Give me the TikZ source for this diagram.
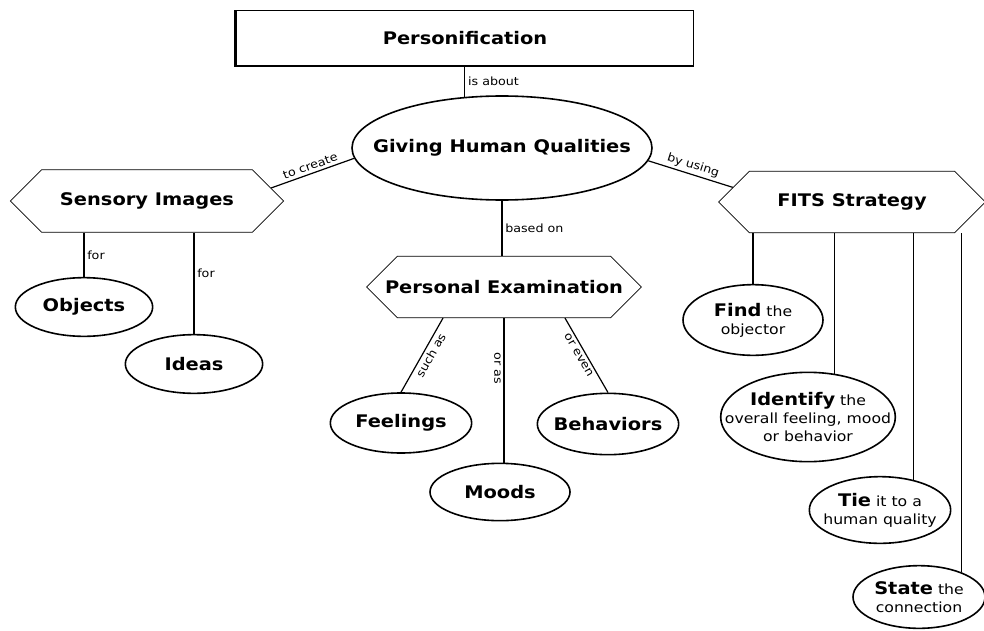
\documentclass[tikz,border=0pt]{standalone}
\usepackage{fontspec}
\setmainfont{DejaVu Sans}[FakeStretch=1.12]
\usetikzlibrary{shapes.geometric,shapes.symbols}

\begin{document}
\begin{tikzpicture}[
    x=0.75pt, y=-0.75pt,
    pmtitle/.style={draw, line width=0.9pt, minimum width=343pt, minimum height=41pt, inner sep=0pt, font=\fontsize{13}{15}\selectfont\bfseries},
    pmconcept/.style={ellipse, draw, line width=1.2pt, inner sep=-20pt, align=center, font=\fontsize{13}{15}\selectfont\bfseries},
    pmstep/.style={ellipse, draw, line width=1.2pt, inner sep=-20pt, align=center, font=\fontsize{10.5}{13.5}\selectfont},
    pmgroup/.style={signal, signal to=west and east, signal pointer angle=90, draw, line width=0.6pt, inner xsep=-20pt, inner ysep=0pt, font=\fontsize{13}{15}\selectfont\bfseries},
    pmlink/.style={line width=0.9pt},
    pmlabel/.style={font=\fontsize{8.5}{10}\selectfont, inner sep=2pt}
]
\useasboundingbox (0,0) rectangle (984,631);

\node[pmtitle] (title) at (465,38) {Personification};
\node[pmconcept, minimum width=225pt, minimum height=78pt] (giving) at (502,148) {Giving Human Qualities};
\node[pmgroup, minimum width=205pt, minimum height=47pt] (sensory) at (147,201) {Sensory Images};
\node[pmgroup, minimum width=206pt, minimum height=46pt] (exam) at (504,287) {Personal Examination};
\node[pmgroup, minimum width=200pt, minimum height=46pt] (fits) at (852,202) {FITS Strategy};
\node[pmconcept, minimum width=103pt, minimum height=44pt] (objects) at (84,307) {Objects};
\node[pmconcept, minimum width=103pt, minimum height=44pt] (ideas) at (194,364) {Ideas};
\node[pmconcept, minimum width=106pt, minimum height=45pt] (feelings) at (401,423) {Feelings};
\node[pmconcept, minimum width=105pt, minimum height=43pt] (moods) at (500,492) {Moods};
\node[pmconcept, minimum width=106pt, minimum height=46pt] (behaviors) at (608,424) {Behaviors};
\node[pmstep, minimum width=105pt, minimum height=53pt] (find) at (753,320) {{\fontsize{13}{15}\selectfont\bfseries Find} the\\objector};
\node[pmstep, minimum width=131pt, minimum height=67pt] (identify) at (808,417) {{\fontsize{13}{15}\selectfont\bfseries Identify} the\\overall feeling, mood\\or behavior};
\node[pmstep, minimum width=106pt, minimum height=50pt] (tie) at (880,510) {{\fontsize{13}{15}\selectfont\bfseries Tie} it to a\\human quality};
\node[pmstep, minimum width=99pt, minimum height=47pt] (state) at (919,597) {{\fontsize{13}{15}\selectfont\bfseries State} the\\connection};

% title shadow
\draw[line width=2pt] (title.north west) -- (title.south west) -- (title.south east);

\draw[pmlink] (title.south -| giving.126) -- node[pmlabel, right] {is about} (giving.126);
\draw[pmlink] (giving.184) -- node[pmlabel, above, sloped] {to create} (sensory.6);
\draw[pmlink] (giving.-5) -- node[pmlabel, above, sloped] {by using} (fits.173);
\draw[pmlink] (giving.south) -- node[pmlabel, right] {based on} (giving.south |- exam.north);

\draw[pmlink] (objects.north |- sensory.south) -- node[pmlabel, right] {for} (objects.north);
\draw[pmlink] (ideas.north |- sensory.south) -- node[pmlabel, right, pos=0.4] {for} (ideas.north);

\draw[pmlink] ([xshift=-45.75pt]exam.south) -- node[pmlabel, below, sloped, pos=0.45] {such as} (feelings.north);
\draw[pmlink] (exam.south) -- node[pmlabel, below, sloped, pos=0.35] {or as} (exam.south |- moods.north);
\draw[pmlink] ([xshift=45.75pt]exam.south) -- node[pmlabel, below, sloped, pos=0.45] {or even} (behaviors.north);

\draw[pmlink] (find.north |- fits.south) -- (find.north);
\draw[pmlink] (identify.59 |- fits.south) -- (identify.59);
\draw[pmlink] (tie.42 |- fits.south) -- (tie.42);
\draw[pmlink] (state.30 |- fits.south) -- (state.30);
\end{tikzpicture}
\end{document}
